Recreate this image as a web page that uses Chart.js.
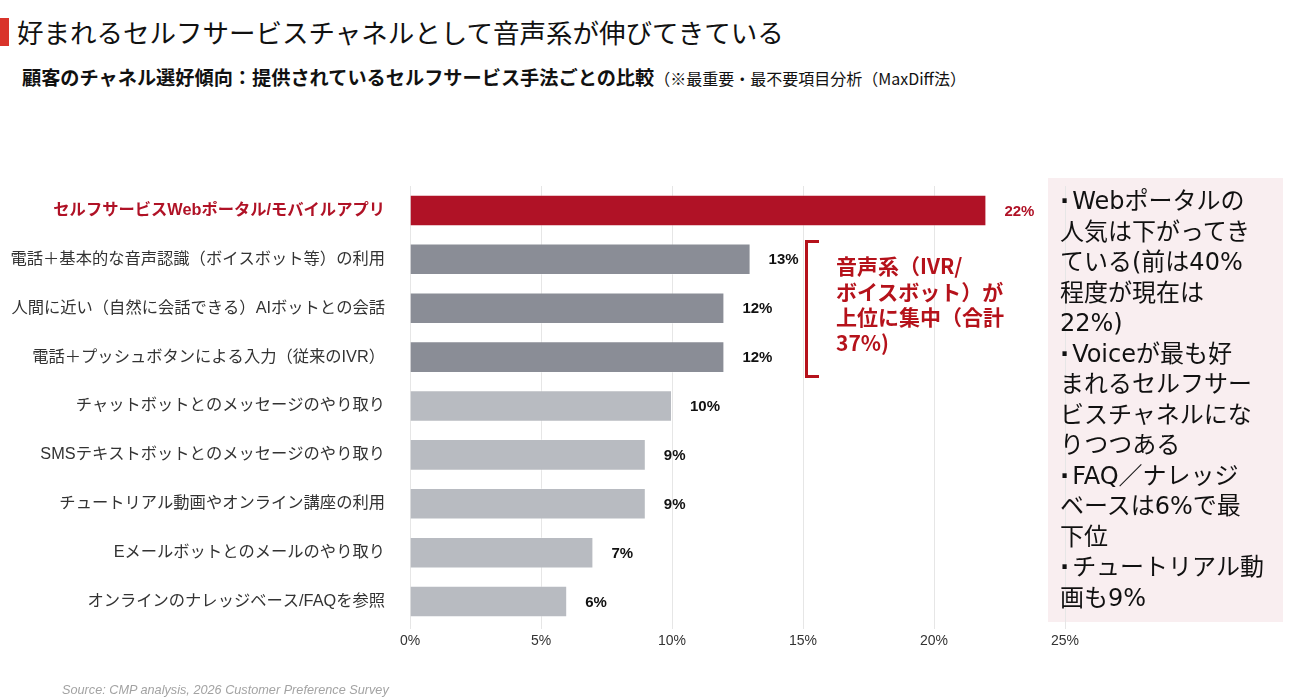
<!DOCTYPE html>
<html>

<head>
	<meta charset="utf-8">
	<title>セルフサービスチャネル選好</title>
	<style>
		body { margin: 0; background: #fff; }
		#page { position: relative; width: 1300px; height: 700px; overflow: hidden; font-family: 'Noto Sans CJK JP', 'Liberation Sans', sans-serif; }
		#titleBar { position: absolute; left: 0; top: 18px; width: 9px; height: 28px; background: #D9342B; }
		#title { position: absolute; left: 17px; top: 12px; font-size: 26.5px; color: #111; white-space: nowrap; line-height: 40px; }
		#subtitle { position: absolute; left: 22px; top: 62px; font-size: 19.2px; font-weight: bold; color: #111; white-space: nowrap; line-height: 30px; }
		#subtitle span { font-size: 16px; font-weight: normal; }
		#noteBox { position: absolute; left: 1048px; top: 178px; width: 235px; height: 444px; background: #F9EEF0; z-index: 0; }
		#noteText { position: absolute; left: 1060px; top: 186px; font-family: 'DejaVu Sans', 'Noto Sans CJK JP', sans-serif; font-size: 24px; line-height: 30.5px; color: #111; white-space: nowrap; z-index: 2; }
		#noteText .d { font-weight: bold; margin-right: 3px; }
		#wrap { position: absolute; left: 0; top: 0; width: 1300px; height: 700px; z-index: 1; }
		#bracket { position: absolute; left: 805px; top: 240px; width: 11px; height: 132px; border: 3px solid #B5121B; border-right: none; z-index: 2; }
		#callout { position: absolute; left: 836px; top: 253px; font-size: 21px; font-weight: bold; line-height: 25.7px; color: #B5121B; white-space: nowrap; z-index: 2; }
		#source { position: absolute; left: 62px; top: 683px; font-family: 'Liberation Sans', sans-serif; font-style: italic; font-size: 12.7px; color: #A3A3A3; z-index: 2; }
	</style>
</head>

<body>
	<script src="https://cdn.jsdelivr.net/npm/chart.js"></script>
	<div id="page">
		<div id="titleBar"></div>
		<div id="title">好まれるセルフサービスチャネルとして音声系が伸びてきている</div>
		<div id="subtitle">顧客のチャネル選好傾向：提供されているセルフサービス手法ごとの比較<span>（※最重要・最不要項目分析（MaxDiff法）</span></div>
		<div id="noteBox"></div>
		<div id="noteText"><span class="d">·</span>Webポータルの<br>人気は下がってき<br>ている(前は40%<br>程度が現在は<br>22%)<br><span class="d">·</span>Voiceが最も好<br>まれるセルフサー<br>ビスチャネルにな<br>りつつある<br><span class="d">·</span>FAQ／ナレッジ<br>ベースは6%で最<br>下位<br><span class="d">·</span>チュートリアル動<br>画も9%</div>
		<div id="wrap"><canvas id="myChart"></canvas></div>
		<div id="bracket"></div>
		<div id="callout">音声系（IVR/<br>ボイスボット）が<br>上位に集中（合計<br>37%)</div>
		<div id="source">Source: CMP analysis, 2026 Customer Preference Survey</div>
	</div>

	<script>
    // chart data
    var categories = [
      'セルフサービスWebポータル/モバイルアプリ',
      '電話＋基本的な音声認識（ボイスボット等）の利用',
      '人間に近い（自然に会話できる）AIボットとの会話',
      '電話＋プッシュボタンによる入力（従来のIVR）',
      'チャットボットとのメッセージのやり取り',
      'SMSテキストボットとのメッセージのやり取り',
      'チュートリアル動画やオンライン講座の利用',
      'Eメールボットとのメールのやり取り',
      'オンラインのナレッジベース/FAQを参照'
    ];
    var shares = [22, 13, 12, 12, 10, 9, 9, 7, 6];
    var xTicks = [0, 5, 10, 15, 20, 25];

    var RED = '#B01226';
    var DARK = '#8A8D96';
    var LIGHT = '#B8BBC1';

    function barColor(i) {
      if (i == 0) return RED;
      if (i <= 3) return DARK;
      return LIGHT;
    }

    // value labels to the right of each bar
    const valueLabels = {
      id: 'valueLabels',
      afterDatasetsDraw(chart) {
        const ctx = chart.ctx;
        const meta = chart.getDatasetMeta(0);
        ctx.save();
        ctx.font = 'bold 15px "Liberation Sans", sans-serif';
        ctx.textAlign = 'left';
        ctx.textBaseline = 'middle';
        meta.data.forEach(function (bar, i) {
          ctx.fillStyle = i == 0 ? RED : '#111';
          ctx.fillText(shares[i] + '%', bar.x + 18, bar.y + 1);
        });
        ctx.restore();
      }
    };

    Chart.defaults.font.family = "'Liberation Sans', 'Noto Sans CJK JP', sans-serif";

    const ctx = document.getElementById('myChart').getContext('2d');
    var myChart = new Chart(ctx, {
      type: 'bar',
      data: {
        labels: categories,
        datasets: [{
          data: shares,
          backgroundColor: shares.map(function (v, i) { return barColor(i); }),
          borderColor: 'rgba(255,255,255,0.3)',
          borderWidth: 1,
          categoryPercentage: 1,
          barPercentage: 0.645
        }]
      },
      options: {
        indexAxis: 'y',
        responsive: true,
        maintainAspectRatio: false,
        animation: false,
        layout: { padding: { left: 0, right: 235, top: 186, bottom: 44 } },
        plugins: {
          legend: { display: false },
          tooltip: { enabled: false }
        },
        scales: {
          x: {
            min: 0,
            max: 25,
            afterFit: function (scale) { scale.height = 30; },
            afterBuildTicks: function (scale) { scale.ticks = xTicks.map(function (v) { return { value: v }; }); },
            grid: { color: '#E6E6E6', tickColor: '#E6E6E6', tickLength: 3 },
            border: { display: false },
            ticks: {
              color: '#333',
              font: { size: 14 },
              padding: 4,
              callback: function (v) { return v + '%'; }
            }
          },
          y: {
            afterFit: function (scale) { scale.width = 410; },
            grid: { display: false, drawTicks: false },
            border: { display: false },
            ticks: {
              padding: 25,
              color: function (c) { return c.index == 0 ? RED : '#333'; },
              font: function (c) { return c.index == 0 ? { size: 16.3, weight: 'bold' } : { size: 16.3 }; }
            }
          }
        }
      },
      plugins: [valueLabels]
    });
	</script>
</body>

</html>
